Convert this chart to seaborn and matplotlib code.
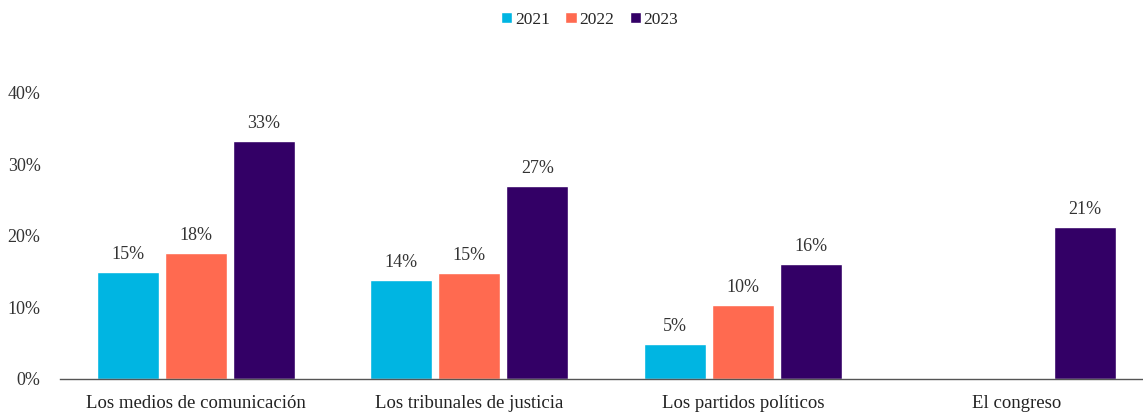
import matplotlib
matplotlib.use("Agg")
from matplotlib import pyplot as plt
from matplotlib.ticker import FuncFormatter
import pandas as pd
import seaborn as sns

categories = ["Los medios de comunicación", "Los tribunales de justicia",
              "Los partidos políticos", "El congreso"]
years = ["2021", "2022", "2023"]
v2021 = [14.9, 13.85, 4.9, None]
v2022 = [17.6, 14.8, 10.25, None]
v2023 = [33.2, 27.0, 16.1, 21.2]
colors = ["#00B5E2", "#FF6A50", "#330066"]

rows = []
for yr, vals in zip(years, [v2021, v2022, v2023]):
    for cat, v in zip(categories, vals):
        rows.append({"categoria": cat, "anio": yr, "valor": v})
df = pd.DataFrame(rows)

sns.set_style("white")
plt.rcParams["font.family"] = ["Liberation Serif", "DejaVu Serif"]

fig = plt.figure(figsize=(11.43, 4.13), dpi=100)
ax = fig.add_axes([0.0525, 0.0835, 0.9475, 0.6915])

sns.barplot(data=df, x="categoria", y="valor", hue="anio", order=categories,
            hue_order=years, palette=colors, width=0.745, gap=0.088,
            saturation=1, ax=ax)

for cont in ax.containers:
    ax.bar_label(cont, labels=[f"{b.get_height():.0f}%" for b in cont],
                 padding=6.5, fontsize=13, color="#333333")

ax.set_ylim(0, 40)
ax.set_xlim(-0.495, 3.46)
ax.set_yticks([0, 10, 20, 30, 40])
ax.yaxis.set_major_formatter(FuncFormatter(lambda v, p: f"{v:.0f}%"))
ax.set_xlabel("")
ax.set_ylabel("")
for s in ["top", "right", "left"]:
    ax.spines[s].set_visible(False)
ax.spines["bottom"].set_color("#555555")
ax.spines["bottom"].set_linewidth(1.0)
ax.tick_params(axis="y", length=0, pad=14, labelsize=13, labelcolor="#333333")
ax.tick_params(axis="x", length=0, pad=12, labelsize=13.5, labelcolor="#222222")

ax.legend(loc="upper center", bbox_to_anchor=(0.516, 0.972), bbox_transform=fig.transFigure,
          ncol=3, frameon=False, fontsize=12.5, handlelength=0.65, handleheight=0.65,
          handletextpad=0.15, columnspacing=0.9, borderaxespad=0, borderpad=0)

fig.savefig("out.png", dpi=100)
